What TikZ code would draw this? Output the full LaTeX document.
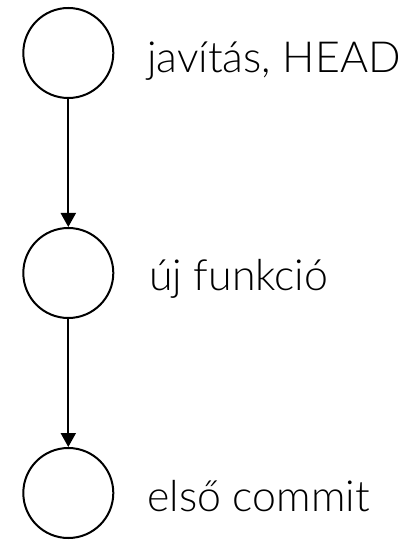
\documentclass[tikz,border=0pt]{standalone}
\usepackage{fontspec}
\setmainfont{Lato Light}
\usetikzlibrary{arrows.meta}
\begin{document}
\begin{tikzpicture}[x=1bp,y=-1bp,
  commit/.style={circle,draw,line width=2bp,inner sep=0pt,minimum size=90bp},
  lbl/.style={anchor=base west,inner sep=0pt,font=\fontsize{43}{48}\selectfont},
  edge/.style={line width=2bp,-{Triangle[width=15bp,length=14bp]}}]
\useasboundingbox (0,0) rectangle (419,540);
\node[commit] (c3) at (68.3,53) {};
\node[commit] (c2) at (68.3,273) {};
\node[commit] (c1) at (68.3,493) {};
\node[lbl] (t3) at (147,72.7) {javítás, HEAD};
\node[lbl] (t2) at (149,290) {új funkció};
\node[lbl] (t1) at (147,511) {első commit};
\draw[edge] (c3) -- (c2);
\draw[edge] (c2) -- (c1);
\end{tikzpicture}
\end{document}
